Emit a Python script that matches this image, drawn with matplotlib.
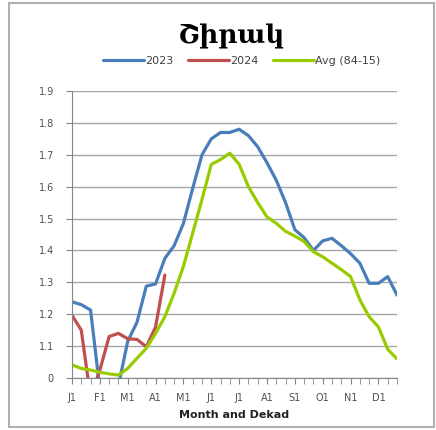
import matplotlib
matplotlib.use('Agg')
import matplotlib.pyplot as plt
from matplotlib.patches import Rectangle

# dekads: 36 points, Jan 1st dekad .. Dec 3rd dekad
month_labels = ['J1', 'F1', 'M1', 'A1', 'M1', 'J1', 'J1', 'A1', 'S1', 'O1', 'N1', 'D1']
ytick_vals = [0, 0.1, 0.2, 0.3, 0.4, 0.5, 0.6, 0.7, 0.8, 0.9]
ytick_labels = ['0', '1.1', '1.2', '1.3', '1.4', '1.5', '1.6', '1.7', '1.8', '1.9']

y2023 = [0.239, 0.230, 0.213, -0.035, -0.040, -0.024, 0.115, 0.175, 0.288, 0.295,
         0.375, 0.415, 0.485, 0.595, 0.700, 0.750, 0.770, 0.770, 0.780, 0.760,
         0.725, 0.675, 0.620, 0.550, 0.465, 0.440, 0.400, 0.430, 0.438, 0.415,
         0.390, 0.360, 0.297, 0.297, 0.318, 0.260]
y2024 = [0.197, 0.150, -0.060, 0.025, 0.130, 0.140, 0.123, 0.121, 0.098, 0.160, 0.323]
yavg = [0.041, 0.030, 0.025, 0.018, 0.013, 0.009, 0.030, 0.062, 0.093, 0.140,
        0.192, 0.266, 0.350, 0.455, 0.560, 0.670, 0.685, 0.705, 0.670, 0.600,
        0.550, 0.505, 0.485, 0.460, 0.445, 0.428, 0.396, 0.380, 0.360, 0.340,
        0.318, 0.245, 0.192, 0.160, 0.090, 0.060]

fig = plt.figure(figsize=(4.36, 4.30), dpi=100)
ax = fig.add_axes([72 / 436, 52 / 430, 325 / 436, 287 / 430])

ax.plot(range(len(y2023)), y2023, color='#4a7ebb', lw=2.3, label='2023', solid_capstyle='round')
ax.plot(range(len(y2024)), y2024, color='#c0504d', lw=2.3, label='2024', solid_capstyle='round')
ax.plot(range(len(yavg)), yavg, color='#99cc00', lw=2.3, label='Avg (84-15)', solid_capstyle='round')

ax.set_xlim(0, 35)
ax.set_ylim(0, 0.9)
ax.set_yticks(ytick_vals)
ax.set_yticklabels(ytick_labels)
ax.set_xticks(range(0, 36, 3))
ax.set_xticklabels(month_labels)
ax.set_xticks(range(36), minor=True)
ax.tick_params(axis='both', which='both', direction='out', length=4, color='#868686',
               labelsize=7, labelcolor='#505050')
ax.tick_params(axis='x', pad=7)
ax.tick_params(axis='y', pad=9)
ax.grid(axis='y', color='#a6a6a6', lw=1)
ax.set_axisbelow(True)
for s in ['top', 'right']:
    ax.spines[s].set_visible(False)
for s in ['left', 'bottom']:
    ax.spines[s].set_color('#868686')
ax.set_xlabel('Month and Dekad', fontsize=8, fontweight='bold', color='#222222', labelpad=5)

fig.text(232 / 436, 1 - 36 / 430, 'Շիրակ', fontsize=19, fontweight='bold',
         family=['DejaVu Serif', 'DejaVu Sans'], ha='center', va='center')

fig.legend(loc='center', bbox_to_anchor=(242 / 436, 1 - 61 / 430), ncol=3, frameon=False,
           fontsize=8, handlelength=3.7, handletextpad=0.1, columnspacing=1.3,
           labelcolor='#404040')

fig.patches.append(Rectangle((9 / 436, 3 / 430), 425 / 436, 424 / 430, transform=fig.transFigure,
                             fill=False, edgecolor='#b0b0b0', lw=1.5))

fig.savefig('out.png', dpi=100)
